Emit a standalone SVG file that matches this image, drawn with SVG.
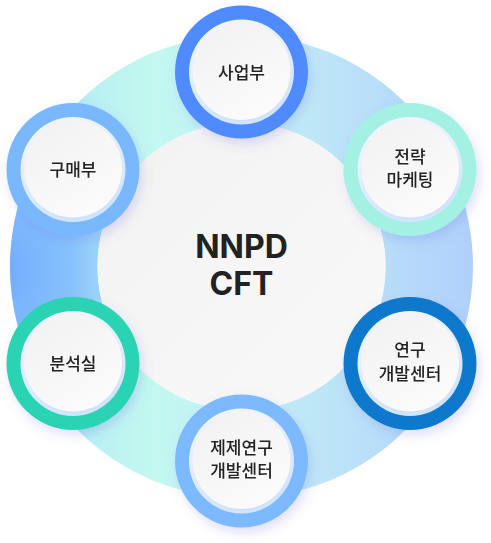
<svg xmlns="http://www.w3.org/2000/svg" width="491" height="543" viewBox="0 0 491 543">
  <defs>
    <linearGradient id="ringBase" gradientUnits="userSpaceOnUse" x1="10" y1="0" x2="473" y2="0">
      <stop offset="0" stop-color="#a9e3f7"/>
      <stop offset="0.3" stop-color="#c3f8f0"/>
      <stop offset="0.55" stop-color="#c2eef6"/>
      <stop offset="1" stop-color="#b0d0fb"/>
    </linearGradient>
    <radialGradient id="ringBlue" gradientUnits="userSpaceOnUse" cx="5" cy="270" r="150" gradientTransform="translate(5 270) scale(1 1.4) translate(-5 -270)">
      <stop offset="0" stop-color="#72acff" stop-opacity="1"/>
      <stop offset="0.45" stop-color="#7fbafd" stop-opacity="0.85"/>
      <stop offset="1" stop-color="#8cc8fb" stop-opacity="0"/>
    </radialGradient>
    <linearGradient id="centerFill" x1="0" y1="0" x2="1" y2="1">
      <stop offset="0" stop-color="#f2f2f2"/>
      <stop offset="1" stop-color="#f9f9f9"/>
    </linearGradient>
    <linearGradient id="band" x1="0" y1="0" x2="0.4" y2="1">
      <stop offset="0" stop-color="#f6f9ff"/>
      <stop offset="1" stop-color="#d3e5ff"/>
    </linearGradient>
    <linearGradient id="disk" x1="0" y1="0" x2="0.6" y2="1">
      <stop offset="0" stop-color="#f1f1f1"/>
      <stop offset="1" stop-color="#fbfbfb"/>
    </linearGradient>
    <filter id="shadow" x="-30%" y="-30%" width="160%" height="160%">
      <feDropShadow dx="3" dy="5" stdDeviation="6" flood-color="#6a6ae0" flood-opacity="0.22"/>
    </filter>
    <filter id="innerShadow" x="-20%" y="-20%" width="140%" height="140%">
      <feDropShadow dx="0" dy="1" stdDeviation="1.2" flood-color="#9fb6e6" flood-opacity="0.2"/>
    </filter>
  </defs>
  <style>
    .lbl { font-family: "Noto Sans CJK KR", "Noto Sans", sans-serif; font-size: 17px; font-weight: 500; fill: #222; text-anchor: middle; }
    .title { font-family: Inter, "Liberation Sans", sans-serif; font-size: 32px; font-weight: 700; fill: #222; text-anchor: middle; }
    .band { fill: url(#band); }
    .disk { fill: url(#disk); }
  </style>

  <g id="ring">
    <path d="M241.5 35 a231.5 231.5 0 1 0 0.01 0 Z M241.5 122.5 a144 144 0 1 1 -0.01 0 Z" fill="url(#ringBase)" fill-rule="evenodd"/>
    <path d="M241.5 35 a231.5 231.5 0 1 0 0.01 0 Z M241.5 122.5 a144 144 0 1 1 -0.01 0 Z" fill="url(#ringBlue)" fill-rule="evenodd"/>
  </g>

  <g id="center">
    <circle cx="241.5" cy="266.5" r="144" fill="url(#centerFill)"/>
    <text class="title" x="241.5" y="258">NNPD</text>
    <text class="title" x="241.5" y="295">CFT</text>
  </g>

  <g id="connectors"></g>

  <g id="node-sales" filter="url(#shadow)">
    <circle cx="241.5" cy="72" r="66.5" fill="#4f8afe"/>
    <circle cx="241.5" cy="72" r="52.5" class="band"/>
    <circle cx="241.5" cy="71" r="49" class="disk" filter="url(#innerShadow)"/>
    <text class="lbl" x="241.5" y="78.5">사업부</text>
  </g>

  <g id="node-marketing" filter="url(#shadow)">
    <circle cx="410" cy="169.5" r="66.5" fill="#a3f1e2"/>
    <circle cx="410" cy="169.5" r="52.5" class="band"/>
    <circle cx="410" cy="168.5" r="49" class="disk" filter="url(#innerShadow)"/>
    <text class="lbl" x="410" y="162.5">전략</text>
    <text class="lbl" x="410" y="186">마케팅</text>
  </g>

  <g id="node-rnd" filter="url(#shadow)">
    <circle cx="410" cy="363.5" r="66.5" fill="#0a78cc"/>
    <circle cx="410" cy="363.5" r="52.5" class="band"/>
    <circle cx="410" cy="362.5" r="49" class="disk" filter="url(#innerShadow)"/>
    <text class="lbl" x="410" y="356">연구</text>
    <text class="lbl" x="410" y="379.5">개발센터</text>
  </g>

  <g id="node-formulation" filter="url(#shadow)">
    <circle cx="241.5" cy="461" r="66.5" fill="#7cb9fe"/>
    <circle cx="241.5" cy="461" r="52.5" class="band"/>
    <circle cx="241.5" cy="460" r="49" class="disk" filter="url(#innerShadow)"/>
    <text class="lbl" x="241.5" y="453.5">제제연구</text>
    <text class="lbl" x="241.5" y="477">개발센터</text>
  </g>

  <g id="node-analysis" filter="url(#shadow)">
    <circle cx="73" cy="363.5" r="66.5" fill="#2cd3b1"/>
    <circle cx="73" cy="363.5" r="52.5" class="band"/>
    <circle cx="73" cy="362.5" r="49" class="disk" filter="url(#innerShadow)"/>
    <text class="lbl" x="73" y="370">분석실</text>
  </g>

  <g id="node-purchasing" filter="url(#shadow)">
    <circle cx="73" cy="169.5" r="66.5" fill="#7ab8fe"/>
    <circle cx="73" cy="169.5" r="52.5" class="band"/>
    <circle cx="73" cy="168.5" r="49" class="disk" filter="url(#innerShadow)"/>
    <text class="lbl" x="73" y="176">구매부</text>
  </g>
</svg>
